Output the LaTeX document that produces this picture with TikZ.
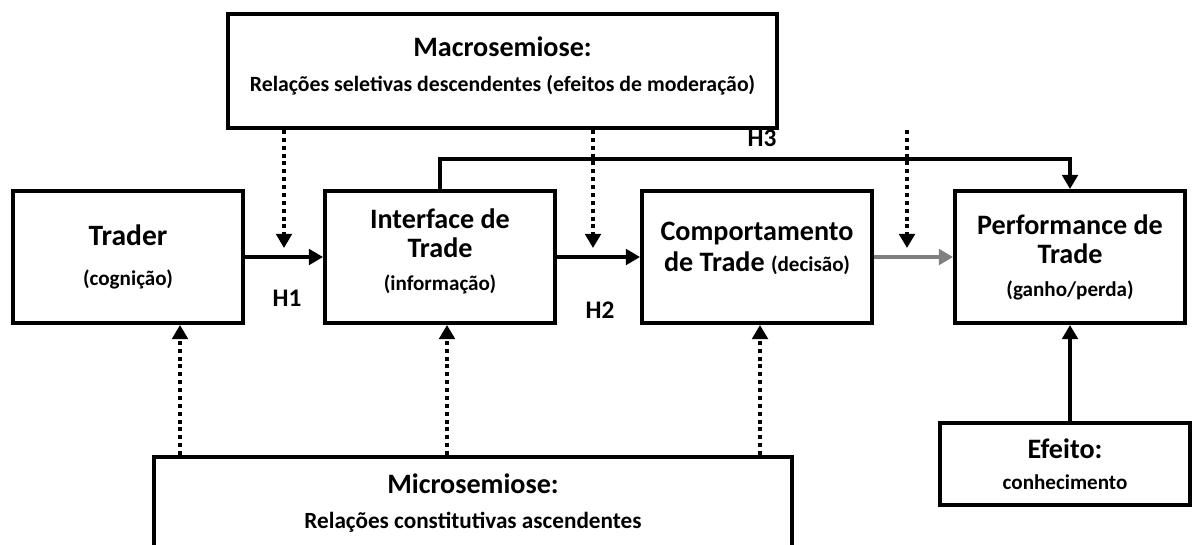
\documentclass[tikz,border=0pt]{standalone}
\usepackage{fontspec}
\setmainfont{Carlito}
\usetikzlibrary{arrows.meta}
\newcommand{\lrg}{\fontsize{20}{21}\selectfont}
\newcommand{\sml}{\fontsize{15}{18}\selectfont}

\begin{document}
\begin{tikzpicture}[x=0.025cm, y=-0.025cm, font=\bfseries,
  box/.style={draw, line width=2.8pt, align=center, inner sep=0pt, font=\bfseries\lrg},
  link/.style={line width=2.8pt, -{Triangle[length=10pt,width=11pt]}},
  dots/.style={line width=2.8pt, dash pattern=on 2.8pt off 2.8pt, -{Triangle[length=10pt,width=11pt]}},
  hyp/.style={font=\bfseries\fontsize{18}{20}\selectfont}]
\useasboundingbox (0,0) rectangle (1197,545);
% boxes
\node[box, minimum width=13.725cm, minimum height=2.85cm] (macro) at (502.5,71) {};
\node[align=center, font=\bfseries\lrg] (macrotxt) at (502.5,66)
  {Macrosemiose:\\[4pt]{\fontsize{15.5}{18}\selectfont Relações seletivas descendentes (efeitos de moderação)}};
\node[box, minimum width=5.75cm, minimum height=3.3cm] (trader) at (128,257)
  {\fontsize{21}{21}\selectfont Trader\\[8pt]{\sml (cognição)}};
\node[box, minimum width=5.75cm, minimum height=3.3cm] (iface) at (440,257) {};
\node[align=center, font=\bfseries\lrg] (ifacetxt) at (440,251)
  {Interface de\\Trade\\[2pt]{\sml (informação)}};
\node[box, minimum width=5.75cm, minimum height=3.3cm] (behav) at (757,257) {};
\node[align=center, font=\bfseries\lrg] (behavtxt) at (757,248)
  {Comportamento\\[1pt]de Trade {\sml(decisão)}};
\node[box, minimum width=5.75cm, minimum height=3.3cm] (perf) at (1070,257)
  {Performance de\\Trade\\[2pt]{\sml (ganho/perda)}};
\node[box, minimum width=15.95cm, minimum height=3cm] (micro) at (473,517) {};
\node[align=center, font=\bfseries\lrg] (microtxt) at (473,503)
  {Microsemiose:\\[4pt]{\fontsize{16.5}{18}\selectfont Relações constitutivas ascendentes}};
\node[box, minimum width=6.25cm, minimum height=2.05cm] (effect) at (1065,464)
  {Efeito:\\[1pt]{\sml conhecimento}};
% labels
\node[hyp] (h1) at (287,298) {H1};
\node[hyp] (h2) at (600,310) {H2};
\node[hyp] (h3) at (762,138) {H3};
% main links
\draw[link] (trader.east) -- (iface.west);
\draw[link] (iface.east) -- (behav.west);
\draw[link, gray] (behav.east) -- (perf.west);
\draw[link] (iface.north) -- ++(0,-30) -| (perf.north);
\draw[link] (effect.north -| perf.south) -- (perf.south);
% moderation
\foreach \x in {284,593,907}
  \draw[dots] (macro.south -| \x,0) -- (\x,248);
% constitution
\foreach \x/\n in {180/trader,447/iface,760/behav}
  \draw[dots] (micro.north -| \x,0) -- (\n.south -| \x,0);
\end{tikzpicture}
\end{document}
